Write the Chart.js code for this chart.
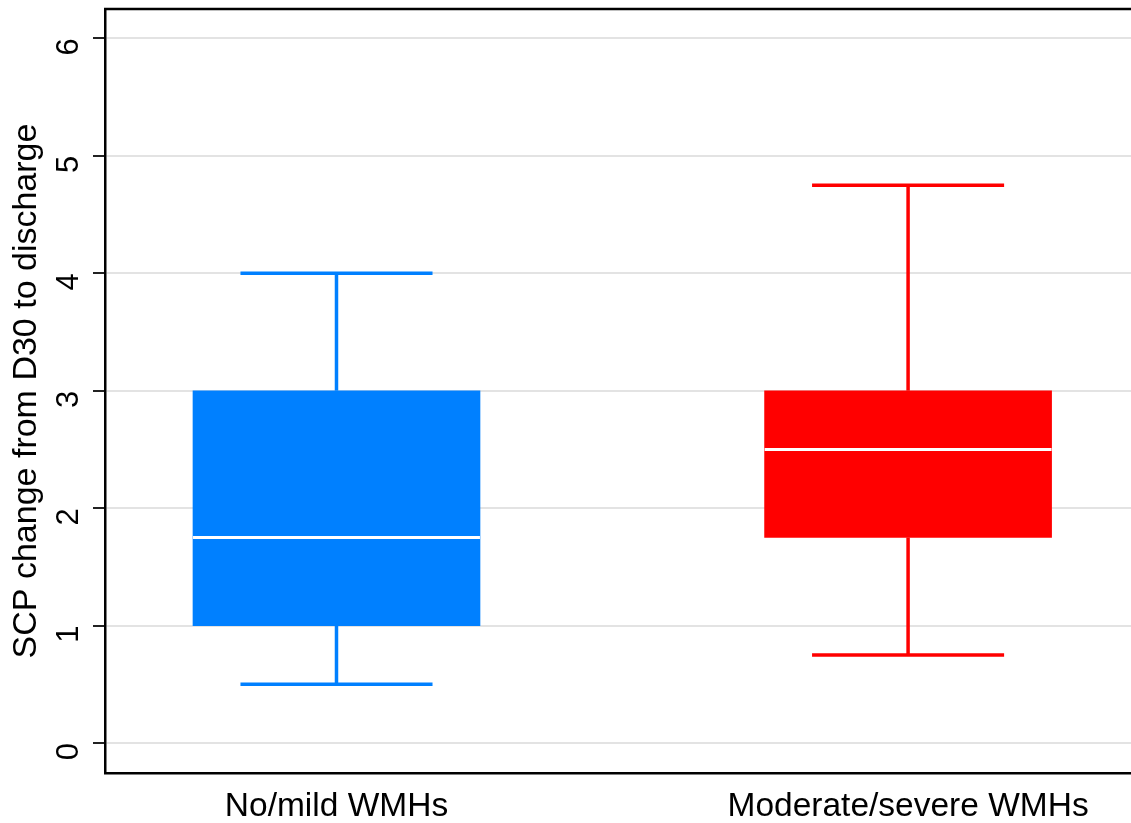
<!DOCTYPE html>
<html>
<head>
<meta charset="utf-8">
<style>
  html, body { margin: 0; padding: 0; background: #fff; overflow: hidden; }
  #wrap { width: 1131px; height: 823px; }
</style>
<script src="https://cdn.jsdelivr.net/npm/chart.js@4.4.1/dist/chart.umd.min.js"></script>
</head>
<body>
<div id="wrap"><canvas id="c" width="1131" height="823"></canvas></div>
<script>
// ---- data ----
const categories = ["No/mild WMHs", "Moderate/severe WMHs"];
const positions = [1, 2];
const mins    = [0.5, 0.75];
const q1s     = [1.0, 1.75];
const medians = [1.75, 2.5];
const q3s     = [3.0, 3.0];
const maxs    = [4.0, 4.75];
const colors  = ["#0080ff", "#ff0000"];
const yTicks  = [0, 1, 2, 3, 4, 5, 6];
const yTitle  = "SCP change from D30 to discharge";

// ---- style constants ----
const BOX_HALF = 0.251;
const CAP_HALF = 0.168;
const LINE_W = 3.5;
const FONT = "'Liberation Sans', Arial, sans-serif";

const datasets = [];
// boxes as floating bars
datasets.push({
  type: 'bar',
  data: positions.map((p, i) => ({ x: p, y: [q1s[i], q3s[i]] })),
  backgroundColor: colors,
  borderWidth: 0,
  barThickness: 287,
  order: 5
});
positions.forEach((p, i) => {
  const c = colors[i];
  const line = (pts, col, w, ord) => ({
    type: 'line', data: pts, borderColor: col, borderWidth: w,
    pointRadius: 0, fill: false, tension: 0, order: ord, borderCapStyle: 'butt'
  });
  datasets.push(line([{x: p, y: q3s[i]}, {x: p, y: maxs[i]}], c, LINE_W, 4));
  datasets.push(line([{x: p, y: mins[i]}, {x: p, y: q1s[i]}], c, LINE_W, 4));
  datasets.push(line([{x: p - CAP_HALF, y: maxs[i]}, {x: p + CAP_HALF, y: maxs[i]}], c, LINE_W, 4));
  datasets.push(line([{x: p - CAP_HALF, y: mins[i]}, {x: p + CAP_HALF, y: mins[i]}], c, LINE_W, 4));
  datasets.push(line([{x: p - BOX_HALF, y: medians[i]}, {x: p + BOX_HALF, y: medians[i]}], '#ffffff', 3, 1));
});

const frameTop = {
  id: 'frameTop',
  afterDraw(chart) {
    const { ctx, chartArea } = chart;
    ctx.save();
    ctx.strokeStyle = '#000';
    ctx.lineWidth = 2.5;
    ctx.beginPath();
    ctx.moveTo(chartArea.left - 1, chartArea.top);
    ctx.lineTo(chartArea.right, chartArea.top);
    ctx.stroke();
    ctx.restore();
  }
};

new Chart(document.getElementById('c'), {
  data: { datasets },
  options: {
    responsive: false,
    animation: false,
    layout: { padding: { top: 9, right: 0, left: 0, bottom: 0 } },
    plugins: { legend: { display: false }, tooltip: { enabled: false } },
    scales: {
      x: {
        type: 'linear',
        offset: false,
        min: 0.595, max: 2.39,
        afterBuildTicks(scale) { scale.ticks = positions.map(v => ({ value: v })); },
        afterFit(scale) { scale.height = 50; scale.paddingLeft = 0; scale.paddingRight = 0; },
        grid: { display: false, drawOnChartArea: false, drawTicks: false, offset: false },
        border: { display: true, color: '#000', width: 2.5 },
        ticks: {
          color: '#000',
          padding: 14,
          maxRotation: 0, minRotation: 0,
          font: { family: FONT, size: 33.5 },
          callback(v) { const i = positions.indexOf(v); return i >= 0 ? categories[i] : ''; }
        }
      },
      y: {
        type: 'linear',
        min: -0.255, max: 6.25,
        afterBuildTicks(scale) { scale.ticks = yTicks.map(v => ({ value: v })); },
        afterFit(scale) { scale.width = 105; scale.paddingTop = 0; scale.paddingBottom = 0; },
        grid: { color: '#e3e3e3', lineWidth: 2, tickLength: 12, tickColor: '#222', tickWidth: 2 },
        border: { display: true, color: '#000', width: 2.5 },
        title: { display: true, text: yTitle, color: '#000', font: { family: FONT, size: 34 }, padding: { top: 6, bottom: 0 } },
        ticks: {
          color: '#000',
          padding: 24,
          minRotation: 90, maxRotation: 90,
          font: { family: FONT, size: 31 }
        }
      }
    }
  },
  plugins: [frameTop]
});
</script>
</body>
</html>
